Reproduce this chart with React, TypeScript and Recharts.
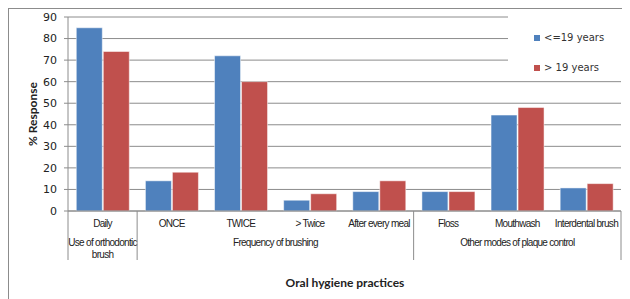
import { BarChart, Bar, XAxis, YAxis, CartesianGrid, Legend } from 'recharts';

const categories = ['Daily', 'ONCE', 'TWICE', '> Twice', 'After every meal', 'Floss', 'Mouthwash', 'Interdental brush'];
const groupLabels = [['Use of orthodontic', 'brush'], ['Frequency of brushing'], ['Other modes of plaque control']];
const groupSizes = [1, 4, 3];
const youngValues = [85, 14, 72, 5, 9, 9, 44.5, 10.7];
const olderValues = [74, 18, 60, 8, 14, 9, 48, 12.7];
const yTicks = [0, 10, 20, 30, 40, 50, 60, 70, 80, 90];
const seriesNames = ['<=19 years', '> 19 years'];

const BLUE = '#4F81BD';
const RED = '#C0504D';
const GRAY = '#8c8c8c';

const CHART_W = 621;
const CHART_H = 290;
const MARGIN = { top: 8, right: 9, left: 0, bottom: 0 };
const Y_W = 59;
const X_H = 88;
const BAND = (CHART_W - MARGIN.left - MARGIN.right - Y_W) / categories.length;

const data = categories.map((name, i) => ({
  name,
  young: youngValues[i],
  older: olderValues[i],
}));

// first category index of each group
const groupStarts = groupSizes.map((_, g) => groupSizes.slice(0, g).reduce((a, b) => a + b, 0));

const labelFont = "'Liberation Sans Narrow', 'Liberation Sans', Arial, sans-serif";

const XTick = (props: any) => {
  const { x, y, payload } = props;
  const i = props.index ?? payload.index;
  const half = BAND / 2;
  const g = groupStarts.indexOf(i);
  const isLast = i === categories.length - 1;
  return (
    <g>
      <text x={x} y={y + 16} textAnchor="middle" fontSize={10} fill="#222" fontFamily={labelFont} letterSpacing={-0.7}>
        {payload.value}
      </text>
      {g >= 0 && (
        <>
          <line x1={x - half} x2={x - half} y1={y} y2={y + 49} stroke={GRAY} />
          {groupLabels[g].map((line, k) => (
            <text
              key={k}
              x={x - half + (groupSizes[g] * BAND) / 2}
              y={y + 35 + k * 12}
              textAnchor="middle"
              fontSize={10}
              fill="#222"
              fontFamily={labelFont}
              letterSpacing={-0.7}
            >
              {line}
            </text>
          ))}
        </>
      )}
      {isLast && <line x1={x + half} x2={x + half} y1={y} y2={y + 49} stroke={GRAY} />}
    </g>
  );
};

const LegendBox = () => (
  <div style={{ background: '#fff', width: 113, height: 62, fontFamily: "'DejaVu Sans', Verdana, sans-serif", fontSize: 10, color: '#333' }}>
    {seriesNames.map((n, k) => (
      <div key={n} style={{ position: 'absolute', left: 26, top: 17 + k * 30, display: 'flex', alignItems: 'center' }}>
        <span style={{ display: 'inline-block', width: 6, height: 6, background: k === 0 ? BLUE : RED, marginRight: 4 }} />
        <span>{n}</span>
      </div>
    ))}
  </div>
);

export default function App() {
  return (
    <div style={{ position: 'relative', width: CHART_W, height: CHART_H, borderTop: `1px solid ${GRAY}`, borderLeft: `1px solid ${GRAY}` }}>
      <BarChart width={CHART_W} height={CHART_H} data={data} margin={MARGIN} barCategoryGap="12%" barGap={1}>
        <CartesianGrid vertical={false} stroke={GRAY} />
        <XAxis
          dataKey="name"
          height={X_H}
          interval={0}
          tickSize={0}
          tickMargin={0}
          tickLine={false}
          axisLine={{ stroke: GRAY }}
          tick={<XTick />}
        />
        <YAxis
          width={Y_W}
          domain={[0, 90]}
          ticks={yTicks}
          interval={0}
          tickSize={4}
          tickMargin={7}
          axisLine={{ stroke: GRAY }}
          tickLine={{ stroke: GRAY }}
          tick={{ fontSize: 11, fill: '#222', fontFamily: "'DejaVu Sans', Verdana, sans-serif" }}
          label={{
            value: '% Response',
            angle: -90,
            position: 'center',
            dx: -6,
            style: { fontFamily: 'Lato, sans-serif', fontWeight: 700, fontSize: 12, fill: '#222' },
          }}
        />
        <Legend
          layout="vertical"
          align="center"
          verticalAlign="middle"
          wrapperStyle={{ top: 6, left: 499, width: 113, height: 62 }}
          content={<LegendBox />}
        />
        <Bar dataKey="young" name={seriesNames[0]} fill={BLUE} stroke="#fff" strokeWidth={0.5} isAnimationActive={false} />
        <Bar dataKey="older" name={seriesNames[1]} fill={RED} stroke="#fff" strokeWidth={0.5} isAnimationActive={false} />
      </BarChart>
      <div
        style={{
          position: 'absolute',
          left: 0,
          width: 672,
          top: 266,
          textAlign: 'center',
          fontFamily: 'Lato, sans-serif',
          fontWeight: 700,
          fontSize: 12,
          color: '#222',
        }}
      >
        Oral hygiene practices
      </div>
    </div>
  );
}
